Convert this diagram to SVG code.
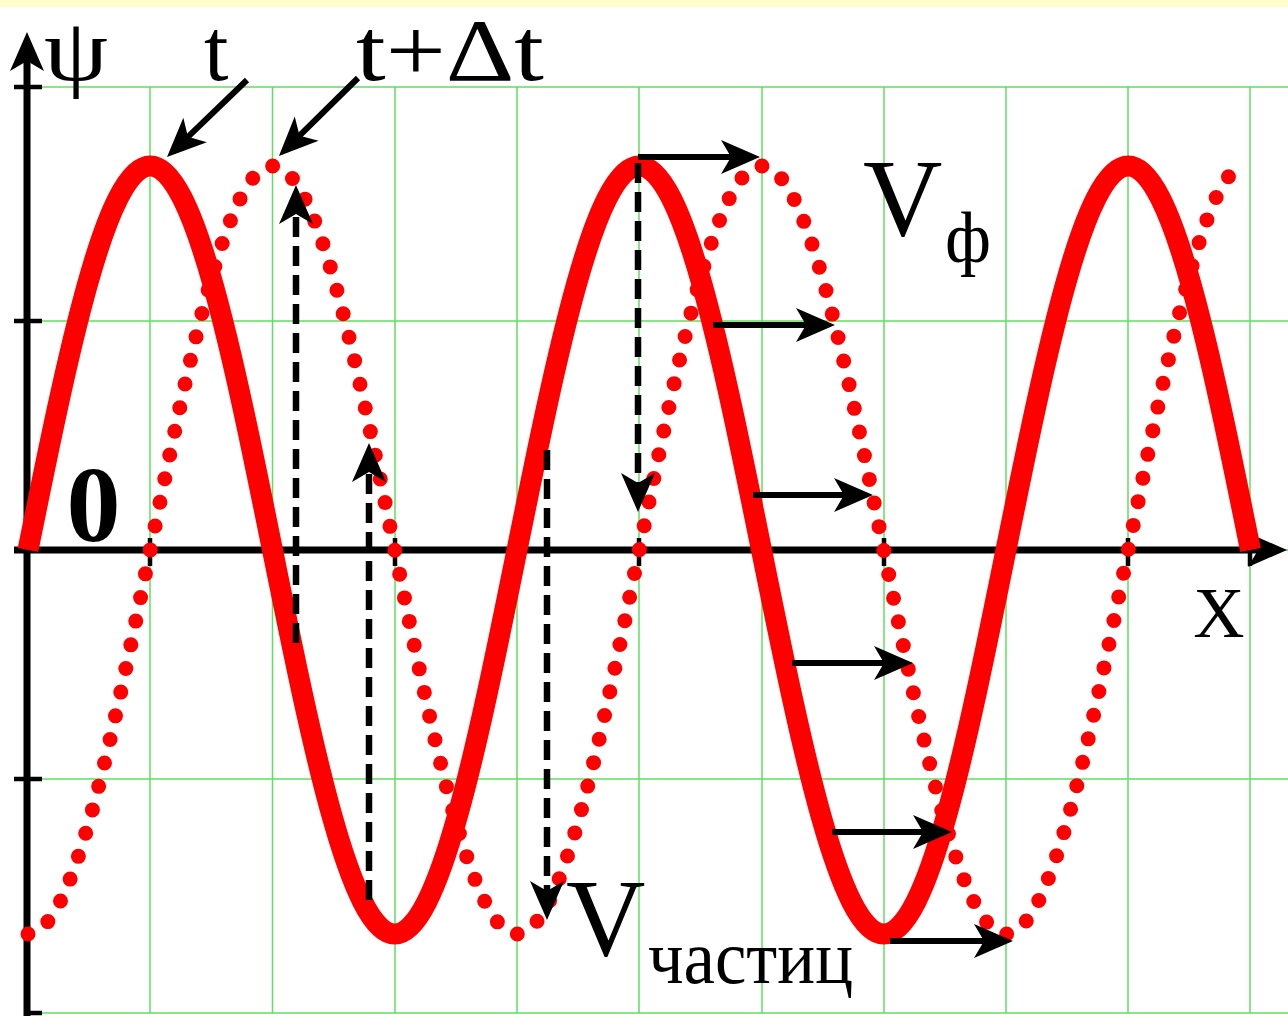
<svg xmlns="http://www.w3.org/2000/svg" width="1288" height="1016" viewBox="0 0 1288 1016">
<style>
.grid{stroke:#5ee05e;stroke-width:1.5;fill:none}
.solid{fill:none;stroke:#ff0000;stroke-width:21;stroke-linejoin:round}
.dots{fill:none;stroke:#ff0000;stroke-width:15;stroke-linecap:round;stroke-dasharray:0 24.2}
.arr{stroke:#000;stroke-width:6;fill:none;marker-end:url(#ah)}
.dash{stroke:#000;stroke-width:6.5;fill:none;stroke-dasharray:20 9;marker-end:url(#ah)}
.axis{stroke:#000;stroke-width:7;fill:none}
.tick{stroke:#000;stroke-width:4.5}
text{font-family:"Liberation Serif","Times New Roman",serif;fill:#000}
</style>
<defs>
<marker id="ah" markerUnits="userSpaceOnUse" markerWidth="54" markerHeight="40" viewBox="-18 -20 54 40" refX="0" refY="0" orient="auto">
<path d="M24,0 L-15,-17 L-5,0 L-15,17 Z" fill="#000" stroke="none"/>
</marker>
</defs>
<rect x="0" y="0" width="1288" height="1016" fill="#ffffff"/>
<rect x="0" y="0" width="1288" height="7" fill="#ffffcc"/>

<g id="grid" class="grid">
<path d="M27,87H1288M27,321H1288M27,550H1288M27,779H1288M27,1013H1288"/>
<path d="M150,87V1013M272.5,87V1013M395,87V1013M517,87V1013M639,87V1013M762,87V1013M884,87V1013M1006,87V1013M1128,87V1013M1250,87V1013"/>
</g>

<g id="axes">
<line class="axis" x1="27" y1="1016" x2="27" y2="56" marker-end="url(#ah)"/>
<line class="axis" x1="14" y1="550" x2="1263" y2="550" marker-end="url(#ah)"/>
<g class="tick">
<line x1="14" y1="87" x2="42" y2="87"/>
<line x1="14" y1="321" x2="42" y2="321"/>
<line x1="14" y1="779" x2="42" y2="779"/>
<line x1="27" y1="1013" x2="42" y2="1013"/>
<line x1="150" y1="538" x2="150" y2="566"/>
<line x1="272.5" y1="538" x2="272.5" y2="566"/>
<line x1="395" y1="538" x2="395" y2="566"/>
<line x1="517" y1="538" x2="517" y2="566"/>
<line x1="639" y1="538" x2="639" y2="566"/>
<line x1="762" y1="538" x2="762" y2="566"/>
<line x1="884" y1="538" x2="884" y2="566"/>
<line x1="1006" y1="538" x2="1006" y2="566"/>
<line x1="1128" y1="538" x2="1128" y2="566"/>
<line x1="1250" y1="538" x2="1250" y2="566"/>
</g>
</g>

<g id="wave-t">
<path class="solid" d="M28,550 C67.87,353.3 106.01,166 150.25,166 C194.49,166 232.63,353.3 272.5,550 C312.37,746.7 350.51,934 394.75,934 C438.99,934 477.13,746.7 517,550 C556.87,353.3 595.01,166 639.25,166 C683.49,166 721.63,353.3 761.5,550 C801.37,746.7 839.51,934 883.75,934 C927.99,934 966.13,746.7 1006,550 C1045.87,353.3 1084.01,166 1128.25,166 C1172.49,166 1210.63,353.3 1250.5,550"/>
</g>

<g id="wave-t-dt">
<path class="dots" d="M28,934 C72.24,934 110.38,746.7 150.25,550 C190.12,353.3 228.26,166 272.5,166 C316.74,166 354.88,353.3 394.75,550 C434.62,746.7 472.76,934 517,934 C561.24,934 599.38,746.7 639.25,550 C679.12,353.3 717.26,166 761.5,166 C805.74,166 843.88,353.3 883.75,550 C923.62,746.7 961.76,934 1006,934 C1050.24,934 1088.38,746.7 1128.25,550 C1168.12,353.3 1206.26,166 1244,167"/>
</g>

<g id="connectors">
<line class="arr" x1="247" y1="80" x2="184.3" y2="140.3"/>
<line class="arr" x1="358" y1="78" x2="296" y2="139.2"/>
<line class="arr" x1="638" y1="157" x2="736" y2="157"/>
<line class="arr" x1="713" y1="325" x2="811" y2="325"/>
<line class="arr" x1="753" y1="495" x2="849" y2="495"/>
<line class="arr" x1="792" y1="663" x2="889" y2="663"/>
<line class="arr" x1="832" y1="832" x2="928" y2="832"/>
<line class="arr" x1="890" y1="941" x2="989" y2="941"/>
<line class="dash" x1="296" y1="643" x2="296" y2="209"/>
<line class="dash" x1="369" y1="900" x2="369" y2="467"/>
<line class="dash" x1="547" y1="450" x2="547" y2="896"/>
<line class="dash" x1="638" y1="163" x2="638" y2="488"/>
</g>

<g id="labels">
<text x="44" y="80" font-size="88" textLength="64" lengthAdjust="spacingAndGlyphs">ψ</text>
<text x="204" y="80" font-size="88">t</text>
<text x="356" y="80" font-size="88" textLength="188" lengthAdjust="spacingAndGlyphs">t+Δt</text>
<text x="93.5" y="541" font-size="108" font-weight="bold" text-anchor="middle">0</text>
<text x="1219" y="637" font-size="71" text-anchor="middle">X</text>
<text x="863" y="235" font-size="110">V</text>
<text x="945" y="262" font-size="71">ф</text>
<text x="566" y="955" font-size="110">V</text>
<text x="648" y="983" font-size="76" textLength="205" lengthAdjust="spacingAndGlyphs">частиц</text>
</g>
</svg>
